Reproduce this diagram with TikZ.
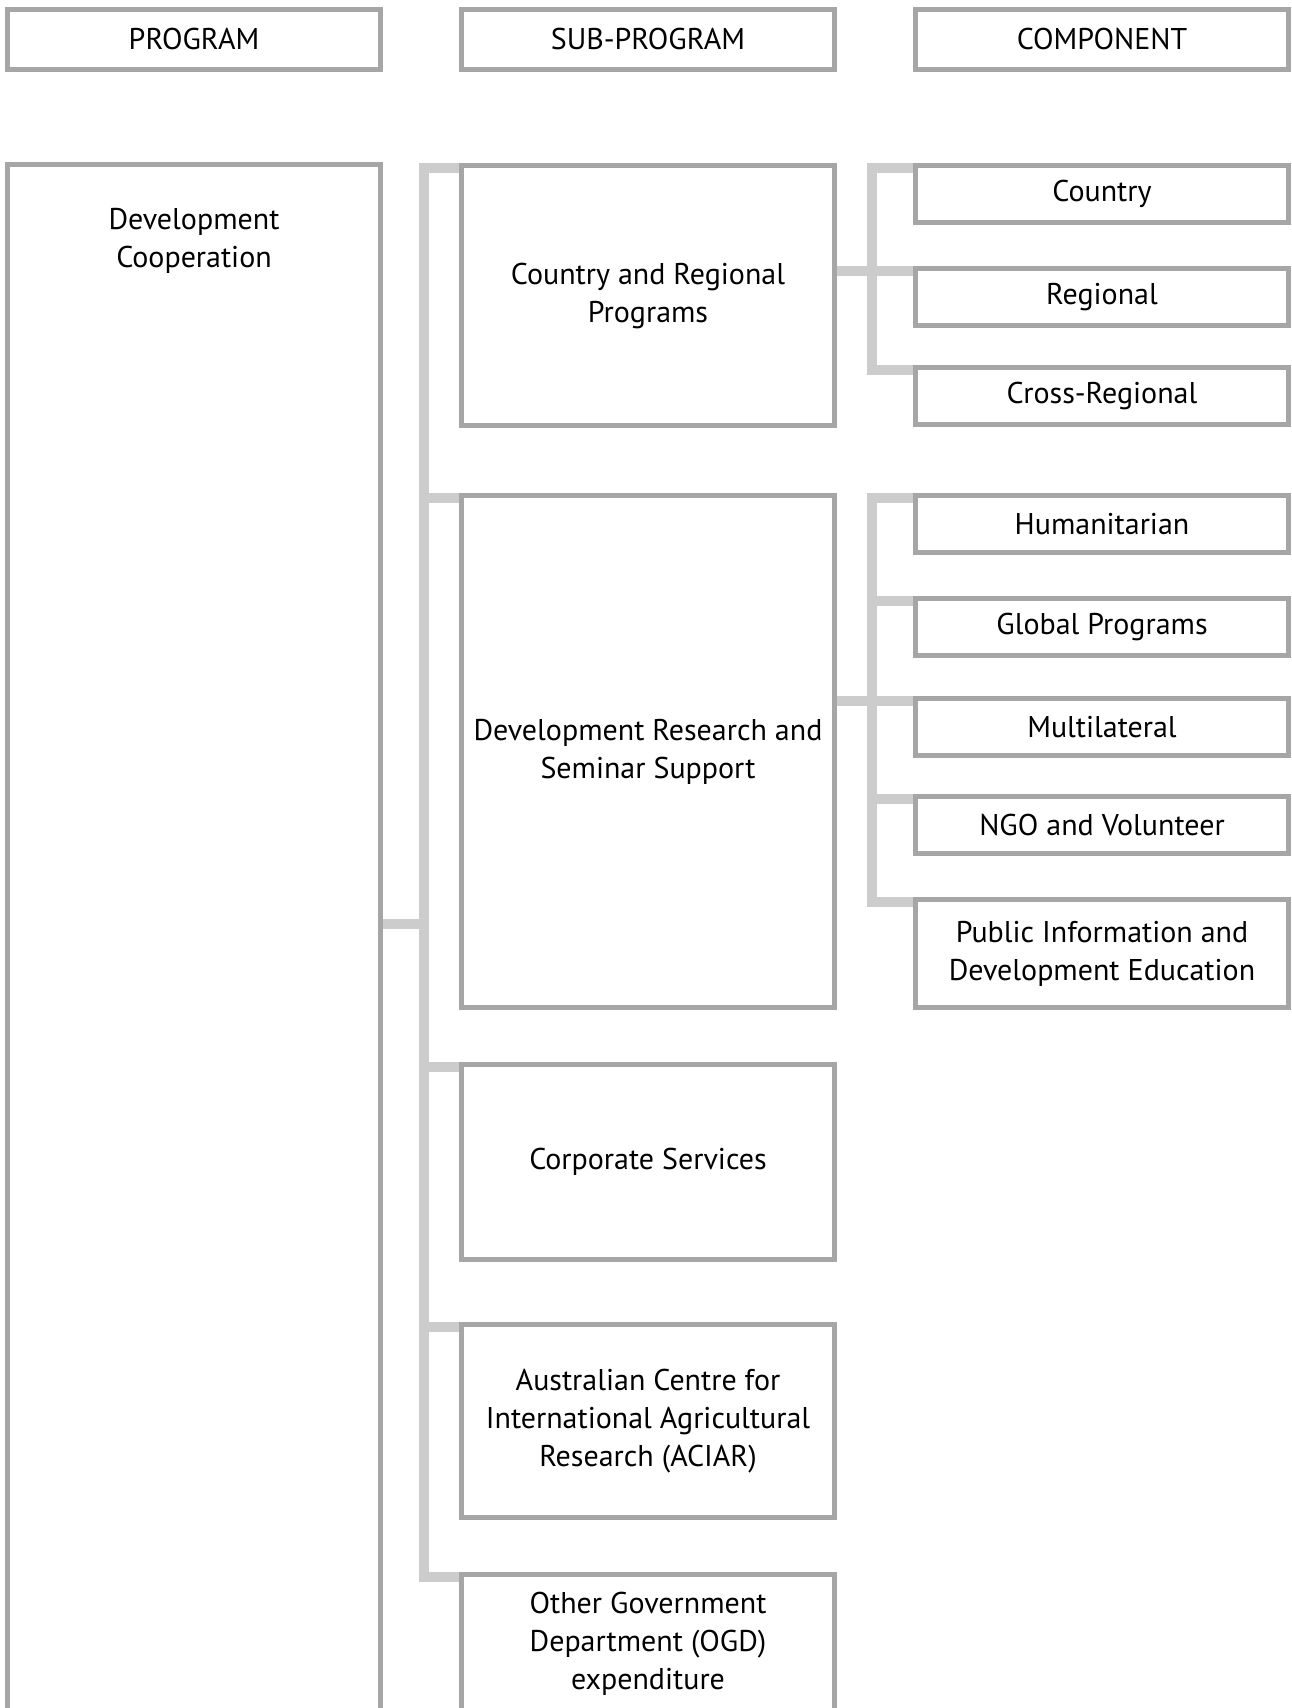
\documentclass[tikz,border=0pt]{standalone}
\usepackage{fontspec}
\setmainfont{PT Sans}
\usetikzlibrary{calc}
\definecolor{boxgray}{HTML}{A6A6A6}
\definecolor{linkgray}{HTML}{CCCCCC}
\tikzset{
	box/.style={draw=boxgray, line width=5pt, fill=white, minimum width=373pt, inner sep=0pt, align=center, font=\fontsize{30}{38}\selectfont},
	link/.style={draw=linkgray, line width=10pt},
}

\begin{document}
\begin{tikzpicture}[x=1pt,y=-1pt]
		%%%%% START %%%%%
		\useasboundingbox (0,0) rectangle (1291,1708);
		\clip (0,0) rectangle (1291,1708);
		
		\node[box, minimum height=60pt] (hprog) at (194, 39) {PROGRAM};
		\node[box, minimum height=60pt] (hsub) at (648, 39) {SUB-PROGRAM};
		\node[box, minimum height=60pt] (hcomp) at (1102, 39) {COMPONENT};
		
		\node[box, minimum height=1634pt] (dc) at (194, 981.5) {};
		\node[align=center, inner sep=0pt, font=\fontsize{30}{38}\selectfont] (dctext) at (194, 241) {Development\\Cooperation};
		
		\node[box, minimum height=260pt] (crp) at (648, 295.5) {Country and Regional\\Programs};
		\node[box, minimum height=512pt] (drs) at (648, 751.5) {Development Research and\\Seminar Support};
		\node[box, minimum height=195pt] (cs) at (648, 1162) {Corporate Services};
		\node[box, minimum height=193pt] (aciar) at (648, 1421) {Australian Centre for\\International Agricultural\\Research (ACIAR)};
		\node[box, minimum height=139pt] (ogd) at (648, 1644) {Other Government\\Department (OGD)\\expenditure};
		
		\node[box, minimum height=57pt] (cty) at (1102, 194) {Country};
		\node[box, minimum height=57pt] (reg) at (1102, 297) {Regional};
		\node[box, minimum height=57pt] (crs) at (1102, 396) {Cross-Regional};
		
		\node[box, minimum height=57pt] (hum) at (1102, 524) {Humanitarian};
		\node[box, minimum height=57pt] (glo) at (1102, 627) {Global Programs};
		\node[box, minimum height=57pt] (mul) at (1102, 727) {Multilateral};
		\node[box, minimum height=57pt] (ngo) at (1102, 825) {NGO and Volunteer};
		\node[box, minimum height=108pt] (pub) at (1102, 953.5) {Public Information and\\Development Education};
		
		% program to sub-programs
		\coordinate (tsub) at (423.5, 923.5);
		\draw[link] (dc.east |- tsub) -- (tsub);
		\draw[link] ($(crp.north west)+(0,5)$) -| (tsub) |- ($(ogd.north west)+(0,5)$);
		\foreach \n in {drs,cs,aciar}
			\draw[link] ($(\n.north west)+(0,5)$) -- ++(-35.5,0);
		
		% sub-programs to components
		\coordinate (tc1) at ($(reg.north west)+(-41,5)$);
		\draw[link] (crp.east |- tc1) -- ($(reg.north west)+(0,5)$);
		\draw[link] ($(cty.north west)+(0,5)$) -| (tc1) |- ($(crs.north west)+(0,5)$);
		
		\coordinate (tc2) at ($(mul.north west)+(-41,5)$);
		\draw[link] (drs.east |- tc2) -- ($(mul.north west)+(0,5)$);
		\draw[link] ($(hum.north west)+(0,5)$) -| (tc2) |- ($(pub.north west)+(0,5)$);
		\foreach \n in {glo,ngo}
			\draw[link] ($(\n.north west)+(0,5)$) -- ++(-41,0);
		
		%%%%% END %%%%%
\end{tikzpicture}
\end{document}
